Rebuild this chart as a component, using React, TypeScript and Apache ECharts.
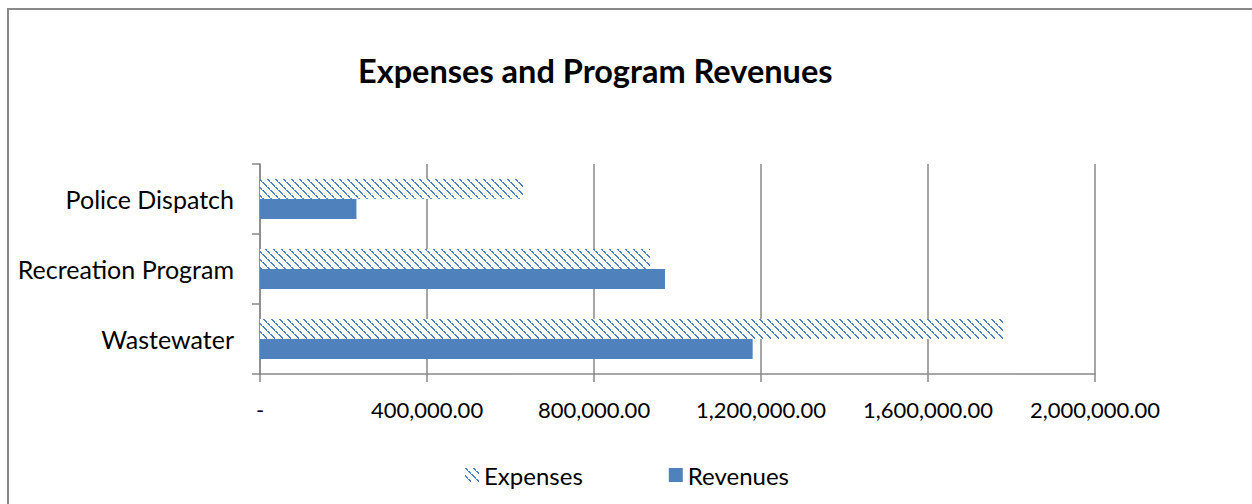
import React, { useEffect, useRef } from "react";
import * as echarts from "echarts";

const categories = ["Wastewater", "Recreation Program", "Police Dispatch"];
const expenses = [1780000, 934000, 630000];
const revenues = [1180000, 970000, 231000];
const seriesNames = ["Expenses", "Revenues"];

const FONT = "Lato";
const BLUE = "#4F81BD";

function makePattern(): HTMLCanvasElement {
  const c = document.createElement("canvas");
  c.width = 8;
  c.height = 8;
  const ctx = c.getContext("2d")!;
  ctx.fillStyle = "#ffffff";
  ctx.fillRect(0, 0, 8, 8);
  ctx.fillStyle = BLUE;
  for (let i = 0; i < 8; i++) {
    ctx.fillRect(i, i, 1, 1);
    if (i % 3 !== 2) ctx.fillRect((i + 1) % 8, i, 1, 1);
  }
  return c;
}

function fmt(v: number): string {
  if (v === 0) return "-";
  return v.toLocaleString("en-US", { minimumFractionDigits: 2, maximumFractionDigits: 2 });
}

export default function App() {
  const ref = useRef<HTMLDivElement>(null);
  useEffect(() => {
    if (!ref.current) return;
    const chart = echarts.init(ref.current, undefined, { renderer: "svg" });
    const pattern = { image: makePattern(), repeat: "repeat" as const };
    chart.setOption({
      animation: false,
      backgroundColor: "#ffffff",
      textStyle: { fontFamily: FONT },
      title: {
        text: "Expenses and Program Revenues",
        left: 353,
        top: 49,
        textStyle: { fontFamily: FONT, fontSize: 32.5, fontWeight: "bold", color: "#000" },
      },
      graphic: [
        {
          type: "polyline",
          shape: { points: [[8, 504], [8, 9], [1252, 9]] },
          style: { stroke: "#898989", lineWidth: 2, fill: "none" },
          silent: true,
        },
      ],
      legend: {
        left: 460,
        top: 458,
        itemWidth: 14,
        itemHeight: 14,
        itemGap: 86,
        icon: "rect",
        textStyle: { fontFamily: FONT, fontSize: 24, color: "#000" },
        data: seriesNames,
      },
      grid: { left: 260, right: 157, top: 164, bottom: 130, containLabel: false },
      xAxis: {
        type: "value",
        min: 0,
        max: 2000000,
        interval: 400000,
        axisLine: { show: true, lineStyle: { color: "#888888", width: 1.5 } },
        axisTick: { show: true, length: 8, lineStyle: { color: "#888888", width: 1.5 } },
        splitLine: { show: true, lineStyle: { color: "#888888", width: 1.5 } },
        axisLabel: {
          formatter: fmt,
          margin: 24,
          fontFamily: FONT,
          fontSize: 22,
          color: "#000",
        },
      },
      yAxis: {
        type: "category",
        data: categories,
        axisLine: { show: true, lineStyle: { color: "#888888", width: 1.5 } },
        axisTick: { show: true, length: 8, lineStyle: { color: "#888888", width: 1.5 } },
        splitLine: { show: false },
        axisLabel: { margin: 26, fontFamily: FONT, fontSize: 25, color: "#000" },
      },
      series: [
        {
          name: seriesNames[0],
          type: "bar",
          data: expenses,
          barWidth: 20,
          barGap: "0%",
          itemStyle: { color: pattern },
        },
        {
          name: seriesNames[1],
          type: "bar",
          data: revenues,
          barWidth: 20,
          barGap: "0%",
          itemStyle: { color: BLUE },
        },
      ],
    });
    return () => chart.dispose();
  }, []);
  return (
    <div
      ref={ref}
      style={{ position: "absolute", left: 0, top: 0, width: 1252, height: 504 }}
    />
  );
}
